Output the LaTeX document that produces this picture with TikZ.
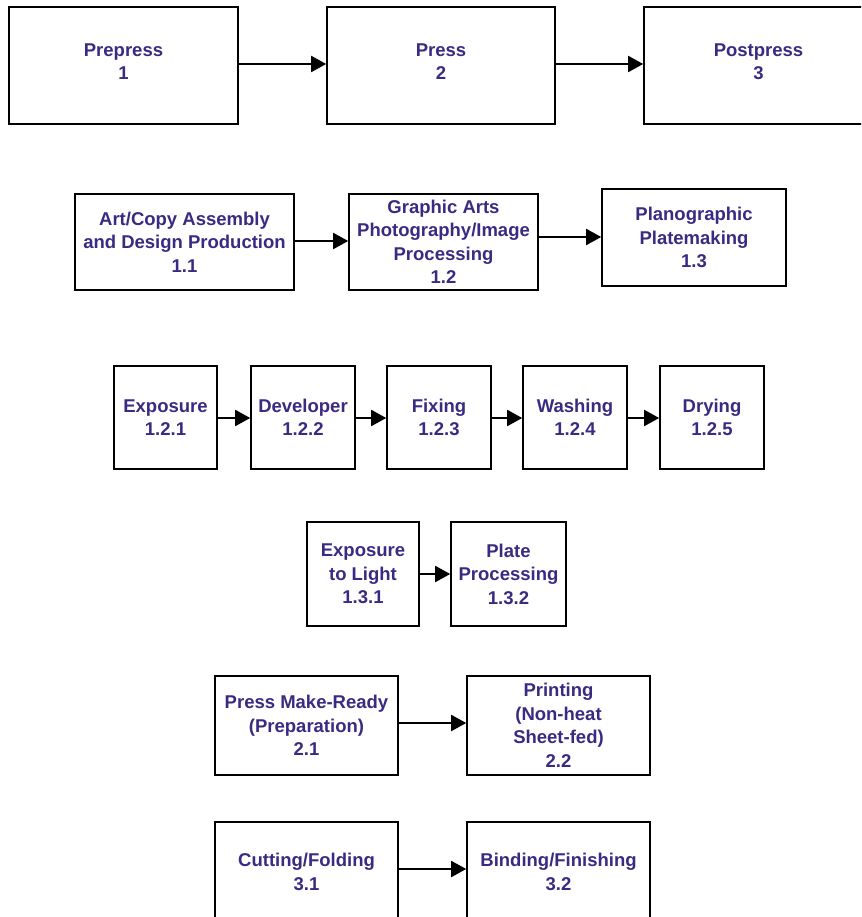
\documentclass[tikz,border=0pt]{standalone}
\usepackage{fontspec}
\setmainfont{Liberation Sans}
\usetikzlibrary{arrows.meta}
\definecolor{txt}{RGB}{58,42,130}
\begin{document}
\begin{tikzpicture}[x=1pt,y=-1pt,
  box/.style={draw=black, line width=1.6pt, fill=white, inner sep=0pt, align=center,
    text=txt, font=\fontsize{18.5pt}{23.5pt}\selectfont\bfseries},
  topbox/.style={box, minimum height=117pt, text depth=8pt},
  arr/.style={line width=1.9pt, -{Triangle[length=15pt,width=16pt]}}]
\clip (0,0) rectangle (861,917);
\fill[white] (0,0) rectangle (861,917);
% top row
\node[topbox, minimum width=229pt] (p1) at (123.5,65.5) {Prepress\\1};
\node[topbox, minimum width=228pt] (p2) at (441,65.5) {Press\\2};
\node[topbox, minimum width=229pt] (p3) at (758.5,65.5) {Postpress\\3};
\draw[arr] (p1.east |- 0,64) -- (p2.west |- 0,64);
\draw[arr] (p2.east |- 0,64) -- (p3.west |- 0,64);
% row 2
\node[box, minimum width=219pt, minimum height=96pt] (n11) at (184.5,242) {Art/Copy Assembly\\and Design Production\\1.1};
\node[box, minimum width=189pt, minimum height=96pt] (n12) at (443.5,242) {Graphic Arts\\Photography/Image\\Processing\\1.2};
\node[box, minimum width=184pt, minimum height=97pt] (n13) at (694,237.5) {Planographic\\Platemaking\\1.3};
\draw[arr] (n11.east |- 0,241) -- (n12.west |- 0,241);
\draw[arr] (n12.east |- 0,237) -- (n13.west |- 0,237);
% row 3
\node[box, minimum width=103pt, minimum height=103pt] (a1) at (165.5,417.5) {Exposure\\1.2.1};
\node[box, minimum width=104pt, minimum height=103pt] (a2) at (303,417.5) {Developer\\1.2.2};
\node[box, minimum width=104pt, minimum height=103pt] (a3) at (439,417.5) {Fixing\\1.2.3};
\node[box, minimum width=104pt, minimum height=103pt] (a4) at (575,417.5) {Washing\\1.2.4};
\node[box, minimum width=104pt, minimum height=103pt] (a5) at (712,417.5) {Drying\\1.2.5};
\draw[arr] (a1.east |- 0,418) -- (a2.west |- 0,418);
\draw[arr] (a2.east |- 0,418) -- (a3.west |- 0,418);
\draw[arr] (a3.east |- 0,418) -- (a4.west |- 0,418);
\draw[arr] (a4.east |- 0,418) -- (a5.west |- 0,418);
% row 4
\node[box, minimum width=112pt, minimum height=104pt] (b1) at (363,574) {Exposure\\to Light\\1.3.1};
\node[box, minimum width=115pt, minimum height=104pt] (b2) at (508.5,574) {Plate\\Processing\\1.3.2};
\draw[arr] (b1) -- (b2);
% row 5
\node[box, minimum width=183pt, minimum height=99pt] (c1) at (306.5,725.5) {Press Make-Ready\\(Preparation)\\2.1};
\node[box, minimum width=183pt, minimum height=99pt] (c2) at (558.5,725.5) {Printing\\(Non-heat\\Sheet-fed)\\2.2};
\draw[arr] (c1.east |- 0,723) -- (c2.west |- 0,723);
% row 6
\node[box, minimum width=183pt, minimum height=100pt] (d1) at (306.5,872) {Cutting/Folding\\3.1};
\node[box, minimum width=183pt, minimum height=100pt] (d2) at (558.5,872) {Binding/Finishing\\3.2};
\draw[arr] (d1.east |- 0,869) -- (d2.west |- 0,869);
\end{tikzpicture}
\end{document}
